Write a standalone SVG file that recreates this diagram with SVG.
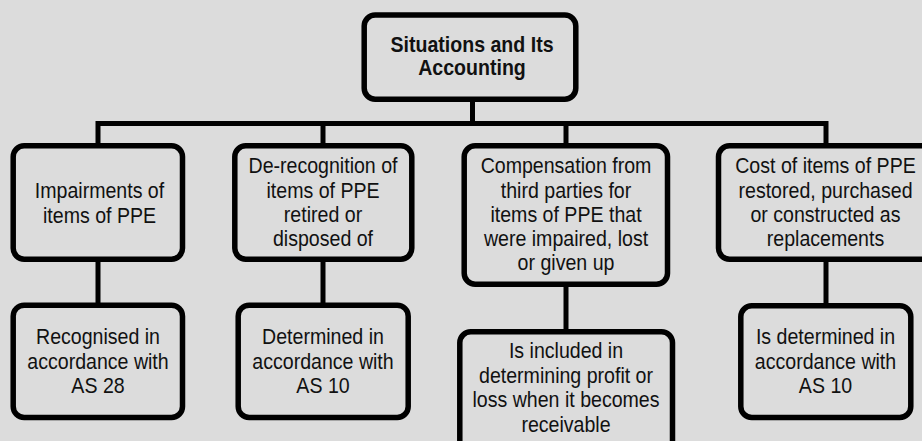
<svg xmlns="http://www.w3.org/2000/svg" width="922" height="441" viewBox="0 0 922 441">
<style>
.box{fill:#dcdcdc;stroke:#000;stroke-width:5.5}
.lbl{font-family:"Liberation Sans",Arial,sans-serif;font-size:22.5px;fill:#111;text-anchor:middle}
.bold{font-weight:bold;font-size:22px}
.conn{stroke:#000;stroke-width:5;fill:none}
</style>
<rect width="922" height="441" fill="#dcdcdc"/>
<g id="connectors">
<path class="conn" d="M472.5 99V123.5M98 123.5H826M98 121V146M323 123.5V146M566 123.5V146M826 121V146"/>
<path class="conn" d="M98 259V305M323 259V305M566 284V332M826 259V306"/>
</g>
<g id="root">
<rect class="box" x="364.2" y="15" width="211.6" height="84.2" rx="11"/>
<text class="lbl bold" transform="matrix(0.89 0 0 1 472 0)"><tspan x="0" y="52.5">Situations and Its</tspan><tspan x="0" y="75.5">Accounting</tspan></text>
</g>
<g id="n1">
<rect class="box" x="13.2" y="145.8" width="169.3" height="113.4" rx="11"/>
<text class="lbl" transform="matrix(0.87 0 0 1 99.5 0)"><tspan x="0" y="198.5">Impairments of</tspan><tspan x="0" y="223.2">items of PPE</tspan></text>
</g>
<g id="n2">
<rect class="box" x="234.8" y="145.8" width="177" height="113.4" rx="11"/>
<text class="lbl" transform="matrix(0.87 0 0 1 323 0)"><tspan x="0" y="173.3">De-recognition of</tspan><tspan x="0" y="197.6">items of PPE</tspan><tspan x="0" y="221.8">retired or</tspan><tspan x="0" y="246">disposed of</tspan></text>
</g>
<g id="n3">
<rect class="box" x="464.2" y="145.8" width="203.3" height="138.4" rx="11"/>
<text class="lbl" transform="matrix(0.87 0 0 1 566 0)"><tspan x="0" y="173.3">Compensation from</tspan><tspan x="0" y="197.6">third parties for</tspan><tspan x="0" y="221.8">items of PPE that</tspan><tspan x="0" y="246">were impaired, lost</tspan><tspan x="0" y="270.2">or given up</tspan></text>
</g>
<g id="n4">
<rect class="box" x="718.5" y="145.8" width="215" height="113.4" rx="11"/>
<text class="lbl" transform="matrix(0.87 0 0 1 825.5 0)"><tspan x="0" y="173.3">Cost of items of PPE</tspan><tspan x="0" y="197.6">restored, purchased</tspan><tspan x="0" y="221.8">or constructed as</tspan><tspan x="0" y="246">replacements</tspan></text>
</g>
<g id="n5">
<rect class="box" x="13.2" y="305.2" width="169.3" height="112.3" rx="11"/>
<text class="lbl" transform="matrix(0.87 0 0 1 98 0)"><tspan x="0" y="344.3">Recognised in</tspan><tspan x="0" y="368.7">accordance with</tspan><tspan x="0" y="393.2">AS 28</tspan></text>
</g>
<g id="n6">
<rect class="box" x="238.2" y="305.2" width="170" height="112.3" rx="11"/>
<text class="lbl" transform="matrix(0.87 0 0 1 323 0)"><tspan x="0" y="344.3">Determined in</tspan><tspan x="0" y="368.7">accordance with</tspan><tspan x="0" y="393.2">AS 10</tspan></text>
</g>
<g id="n7">
<rect class="box" x="459.8" y="331.8" width="212.7" height="120" rx="11"/>
<text class="lbl" transform="matrix(0.87 0 0 1 566 0)"><tspan x="0" y="358.4">Is included in</tspan><tspan x="0" y="383">determining profit or</tspan><tspan x="0" y="407.4">loss when it becomes</tspan><tspan x="0" y="431.8">receivable</tspan></text>
</g>
<g id="n8">
<rect class="box" x="740.8" y="305.8" width="170" height="111.7" rx="11"/>
<text class="lbl" transform="matrix(0.87 0 0 1 825.5 0)"><tspan x="0" y="344.3">Is determined in</tspan><tspan x="0" y="368.7">accordance with</tspan><tspan x="0" y="393.2">AS 10</tspan></text>
</g>
</svg>
